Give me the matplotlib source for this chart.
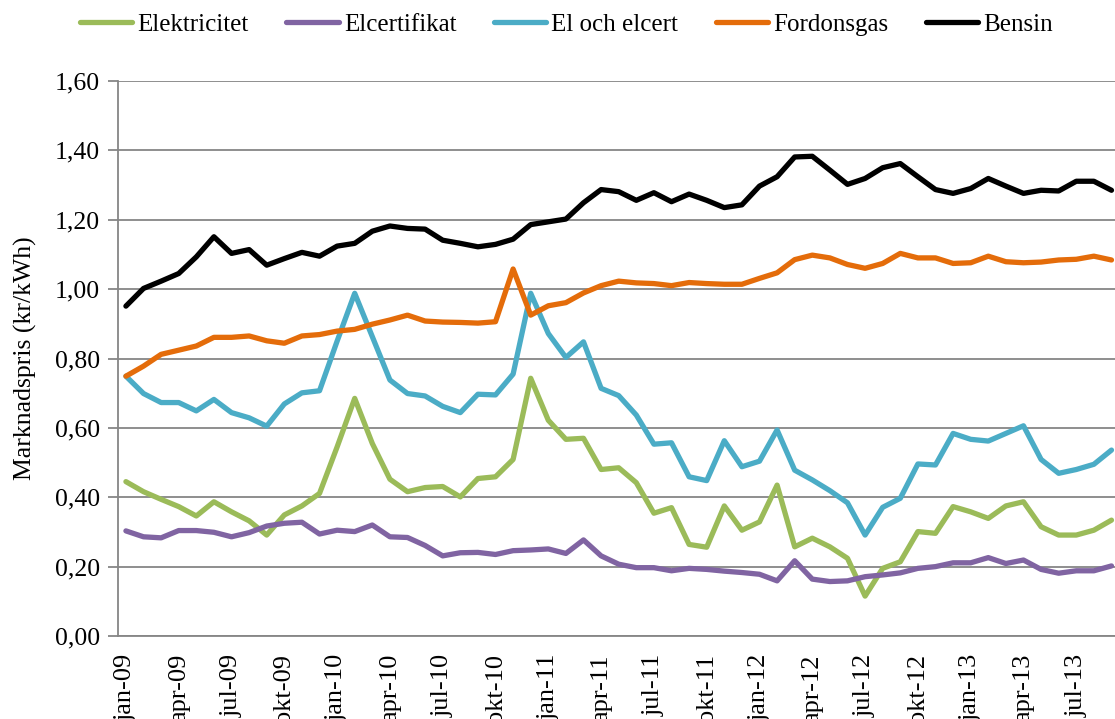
import matplotlib.pyplot as plt
import numpy as np

# monthly prices, jan-09 .. sep-13 (kr/kWh)
months = ["jan", "feb", "mar", "apr", "maj", "jun", "jul", "aug", "sep", "okt", "nov", "dec"]
years = ["09", "10", "11", "12", "13"]
n_months = 57

elektricitet = [
    0.445, 0.416, 0.394, 0.373, 0.346, 0.387, 0.358, 0.332, 0.291, 0.349, 0.375, 0.411,
    0.545, 0.685, 0.555, 0.452, 0.416, 0.428, 0.431, 0.401, 0.454, 0.459, 0.509, 0.743,
    0.622, 0.567, 0.570, 0.480, 0.485, 0.442, 0.354, 0.370, 0.264, 0.256, 0.375, 0.305,
    0.329, 0.435, 0.257, 0.282, 0.257, 0.224, 0.115, 0.195, 0.214, 0.301, 0.296, 0.373,
    0.358, 0.339, 0.375, 0.387, 0.315, 0.291, 0.291, 0.305, 0.334,
]
elcertifikat = [
    0.303, 0.286, 0.283, 0.304, 0.304, 0.299, 0.286, 0.298, 0.317, 0.325, 0.328, 0.294,
    0.305, 0.301, 0.320, 0.286, 0.284, 0.261, 0.231, 0.240, 0.241, 0.235, 0.246, 0.248,
    0.251, 0.238, 0.277, 0.231, 0.207, 0.197, 0.197, 0.188, 0.195, 0.192, 0.187, 0.183,
    0.178, 0.159, 0.217, 0.164, 0.157, 0.159, 0.171, 0.176, 0.182, 0.195, 0.200, 0.211,
    0.211, 0.226, 0.209, 0.219, 0.192, 0.181, 0.188, 0.188, 0.202,
]
el_och_elcert = [
    0.749, 0.699, 0.673, 0.673, 0.649, 0.682, 0.644, 0.629, 0.605, 0.669, 0.701, 0.707,
    0.850, 0.988, 0.863, 0.738, 0.699, 0.692, 0.662, 0.644, 0.697, 0.695, 0.755, 0.988,
    0.872, 0.803, 0.848, 0.714, 0.693, 0.637, 0.553, 0.557, 0.459, 0.448, 0.563, 0.488,
    0.504, 0.594, 0.478, 0.450, 0.419, 0.384, 0.291, 0.371, 0.397, 0.496, 0.493, 0.584,
    0.567, 0.562, 0.584, 0.606, 0.509, 0.469, 0.480, 0.495, 0.536,
]
fordonsgas = [
    0.749, 0.778, 0.812, 0.824, 0.836, 0.861, 0.861, 0.865, 0.851, 0.844, 0.865, 0.869,
    0.879, 0.884, 0.899, 0.911, 0.925, 0.908, 0.905, 0.904, 0.902, 0.906, 1.058, 0.925,
    0.952, 0.961, 0.989, 1.010, 1.023, 1.018, 1.016, 1.010, 1.019, 1.016, 1.014, 1.014,
    1.031, 1.047, 1.085, 1.098, 1.090, 1.071, 1.060, 1.074, 1.103, 1.090, 1.090, 1.074,
    1.076, 1.095, 1.079, 1.076, 1.078, 1.084, 1.086, 1.095, 1.084,
]
bensin = [
    0.951, 1.002, 1.023, 1.045, 1.093, 1.151, 1.103, 1.114, 1.069, 1.088, 1.106, 1.095,
    1.124, 1.132, 1.167, 1.182, 1.175, 1.173, 1.141, 1.132, 1.122, 1.129, 1.144, 1.186,
    1.194, 1.202, 1.249, 1.287, 1.281, 1.256, 1.278, 1.252, 1.274, 1.256, 1.235, 1.243,
    1.297, 1.324, 1.381, 1.383, 1.343, 1.302, 1.319, 1.350, 1.362, 1.324, 1.287, 1.276,
    1.290, 1.319, 1.297, 1.276, 1.285, 1.283, 1.311, 1.311, 1.285,
]

series = [
    ("Elektricitet", elektricitet, "#9BBB59"),
    ("Elcertifikat", elcertifikat, "#8064A2"),
    ("El och elcert", el_och_elcert, "#4BACC6"),
    ("Fordonsgas", fordonsgas, "#E46C0A"),
    ("Bensin", bensin, "#000000"),
]

plt.rcParams["font.family"] = ["Liberation Serif", "DejaVu Serif"]
grid_col = "#868686"

fig = plt.figure(figsize=(11.15, 7.19), dpi=100)
ax = fig.add_axes([118 / 1115, 1 - 636 / 719, 1 - 118 / 1115, (636 - 81) / 719])

x = np.arange(n_months)
for name, vals, col in series:
    ax.plot(x, vals, color=col, lw=3.8, label=name,
            solid_joinstyle="round", solid_capstyle="round")

ax.set_xlim(-0.45, 56.2)
ax.set_ylim(0, 1.6)
ax.set_yticks(np.arange(0, 1.61, 0.2))
ax.set_yticklabels([f"{v:.2f}".replace(".", ",") for v in np.arange(0, 1.61, 0.2)],
                   fontsize=18.5)
# labels run off the bottom edge, as in the source chart
labels = [f"{months[i % 12]}-{years[i // 12]}" for i in range(0, n_months, 3)]
ax.set_xticks(x[::3])
ax.set_xticklabels(labels, rotation=90, fontsize=19, va="top", ha="center")
ax.tick_params(axis="x", length=0, pad=13)
ax.tick_params(axis="y", length=7, width=1.3, color=grid_col, pad=6)

ax.grid(axis="y", color=grid_col, lw=1.3)
ax.set_axisbelow(True)
for side in ["top", "right"]:
    ax.spines[side].set_visible(False)
for side in ["left", "bottom"]:
    ax.spines[side].set_color(grid_col)
    ax.spines[side].set_linewidth(1.3)

ax.set_ylabel("Marknadspris (kr/kWh)", fontsize=18.5, labelpad=13)

fig.legend(loc="upper center", bbox_to_anchor=(0.508, 1.013), ncol=5, frameon=False,
           fontsize=18, handlelength=2.1, handletextpad=0.2, columnspacing=1.5)

fig.savefig("out.png", dpi=100)
